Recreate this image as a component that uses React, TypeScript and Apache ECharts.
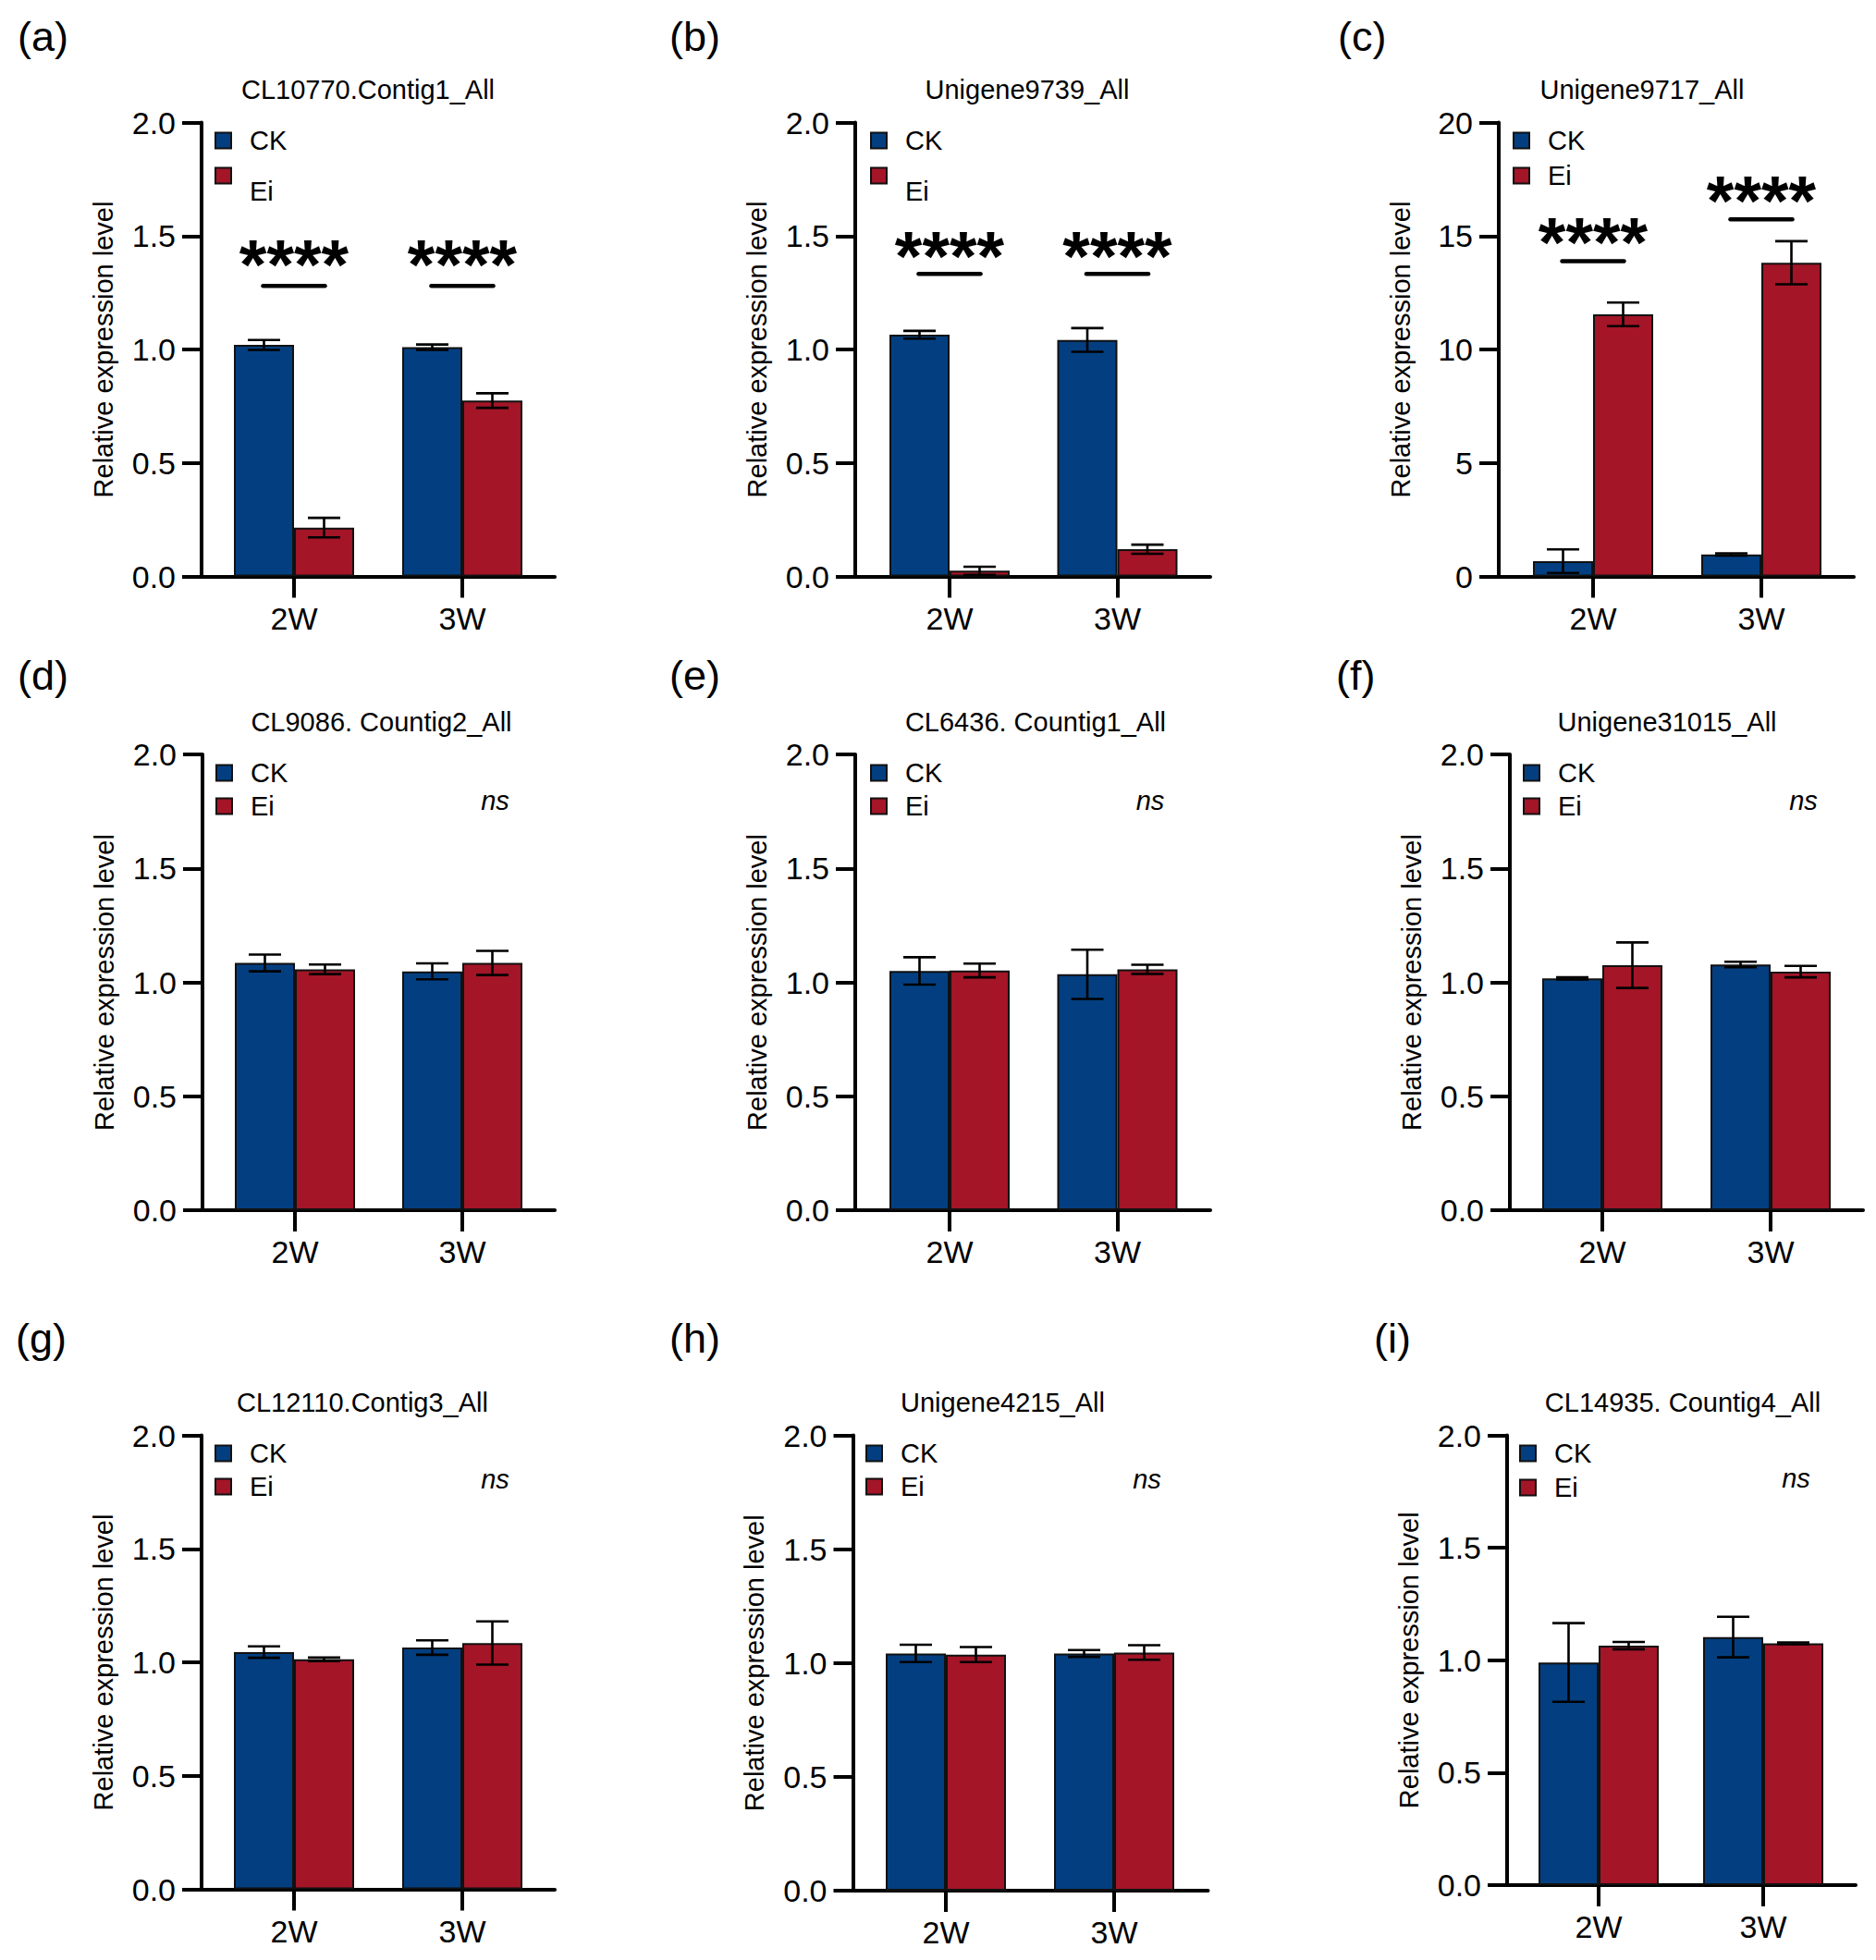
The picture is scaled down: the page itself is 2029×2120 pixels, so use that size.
import React, { useEffect, useRef } from "react";
import * as echarts from "echarts";

// ---------- data ----------
const categories = ["2W", "3W"];
const panelLabels = ["(a)", "(b)", "(c)", "(d)", "(e)", "(f)", "(g)", "(h)", "(i)"];
const titles = [
  "CL10770.Contig1_All",
  "Unigene9739_All",
  "Unigene9717_All",
  "CL9086. Countig2_All",
  "CL6436. Countig1_All",
  "Unigene31015_All",
  "CL12110.Contig3_All",
  "Unigene4215_All",
  "CL14935. Countig4_All",
];
const ckMeans = [
  [1.02, 1.01], [1.065, 1.042], [0.67, 0.97],
  [1.085, 1.048], [1.05, 1.035], [1.017, 1.078],
  [1.045, 1.065], [1.042, 1.042], [0.99, 1.103],
];
const ckErrs = [
  [0.022, 0.012], [0.017, 0.052], [0.52, 0.05],
  [0.037, 0.035], [0.06, 0.108], [0.005, 0.012],
  [0.025, 0.032], [0.038, 0.015], [0.175, 0.09],
];
const eiMeans = [
  [0.215, 0.775], [0.025, 0.12], [11.55, 13.82],
  [1.057, 1.085], [1.052, 1.057], [1.075, 1.047],
  [1.013, 1.085], [1.037, 1.046], [1.065, 1.075],
];
const eiErrs = [
  [0.043, 0.032], [0.018, 0.02], [0.52, 0.95],
  [0.021, 0.053], [0.03, 0.02], [0.1, 0.025],
  [0.008, 0.095], [0.033, 0.032], [0.016, 0.004],
];
const yMaxes = [2, 2, 20, 2, 2, 2, 2, 2, 2];
const yIntervals = [0.5, 0.5, 5, 0.5, 0.5, 0.5, 0.5, 0.5, 0.5];
// significance: per panel, per category [lineY, starY] (null = ns panel)
const sigLevels: (number[][] | null)[] = [
  [[1.28, 1.43], [1.28, 1.43]],
  [[1.333, 1.468], [1.333, 1.468]],
  [[13.89, 15.28], [15.73, 17.1]],
  null, null, null, null, null, null,
];
const sigText = "****";
const nsText = "ns";
const nsLevels = [null, null, null, 1.79, 1.79, 1.79, 1.8, 1.8, 1.8];
const seriesNames = ["CK", "Ei"];
const yAxisName = "Relative expression level";

// ---------- layout / style ----------
const FONT = '"Liberation Sans", Arial, Helvetica, sans-serif';
const BLUE = "#033f80";
const RED = "#a31527";
const COLORS = [BLUE, RED];
const BAR_W = 65;
const CAP = 17.5;
const frameLeft = [218, 925, 1621, 219, 925, 1633, 218, 922.5, 1630];
const frameRight = [600, 1309, 2005, 600, 1309, 2015, 600, 1306.5, 2007];
const tickA = [318, 1027, 1723, 319, 1027, 1733, 318, 1023, 1729];
const tickB = [500, 1208.5, 1905, 500, 1208.5, 1915, 500, 1205, 1907];
const gridTop = [132.5, 132.5, 132.5, 816, 816, 816, 1552.5, 1552.5, 1552.5];
const gridBottom = [623.5, 623.5, 623.5, 1309, 1309, 1309, 2043.5, 2045, 2039];
const titleX = [398, 1111, 1776, 412.5, 1120, 1803, 392, 1084.5, 1820];
const titleY = [96.5, 96.5, 96.5, 781, 781, 781, 1516.5, 1516.5, 1516.5];
const labelX = [19, 724, 1447, 19, 724, 1445, 17, 724, 1486];
const labelY = [39, 39, 39, 730, 730, 730, 1447, 1447, 1447];
const legendX = [233, 942, 1637, 234, 942, 1648, 233, 937, 1644];
const legendCkY = [152, 152, 152, 836, 836, 836, 1572, 1572, 1572];
const legendEiY = [190, 190, 190, 872, 872, 872, 1608, 1608, 1609];
const legendEiShift = [17, 17, 0, 0, 0, 0, 0, 0, 0];
const W = 2029;
const H = 2120;

const centerText = { align: "center", verticalAlign: "middle", textAlign: "center", textVerticalAlign: "middle" };
const leftText = { align: "left", verticalAlign: "middle", textAlign: "left", textVerticalAlign: "middle" };

function buildOption() {
  const grid: any[] = [];
  const xAxis: any[] = [];
  const yAxis: any[] = [];
  const series: any[] = [];
  const graphic: any[] = [];

  for (let i = 0; i < 9; i++) {
    const height = gridBottom[i] - gridTop[i];
    const span = tickB[i] - tickA[i];
    // frame grid (axis lines, y ticks/labels)
    grid.push({
      left: frameLeft[i], top: gridTop[i], width: frameRight[i] - frameLeft[i], height,
      outerBoundsMode: "none", containLabel: false,
    });
    // data grid
    grid.push({
      left: tickA[i] - span / 2, top: gridTop[i], width: span * 2, height,
      outerBoundsMode: "none", containLabel: false,
    });
    const fi = 2 * i;
    const di = 2 * i + 1;
    xAxis.push({
      gridIndex: fi, type: "value", min: 0, max: 1,
      axisLine: { show: true, onZero: false, lineStyle: { color: "#000", width: 4 } },
      axisTick: { show: false }, axisLabel: { show: false }, splitLine: { show: false },
    });
    xAxis.push({
      gridIndex: di, type: "category", data: categories,
      axisLine: { show: false },
      axisTick: { show: true, alignWithLabel: true, length: 23, lineStyle: { color: "#000", width: 4 } },
      axisLabel: { fontSize: 34, color: "#000", margin: 28, fontFamily: FONT },
      splitLine: { show: false },
    });
    const yMax = yMaxes[i];
    yAxis.push({
      gridIndex: fi, type: "value", min: 0, max: yMax, interval: yIntervals[i],
      axisLine: { show: true, onZero: false, lineStyle: { color: "#000", width: 4 } },
      axisTick: { show: true, length: 21, lineStyle: { color: "#000", width: 4 } },
      axisLabel: {
        fontSize: 34, color: "#000", margin: 28, fontFamily: FONT,
        formatter: (v: number) => (yMax >= 10 ? String(Math.round(v)) : v.toFixed(1)),
      },
      splitLine: { show: false },
      name: yAxisName, nameLocation: "middle", nameGap: 92,
      nameTextStyle: { fontSize: 29, color: "#000", fontFamily: FONT },
    });
    yAxis.push({ gridIndex: di, type: "value", min: 0, max: yMax, show: false });

    const means = [ckMeans[i], eiMeans[i]];
    const errs = [ckErrs[i], eiErrs[i]];
    for (let s = 0; s < 2; s++) {
      series.push({
        type: "bar", name: seriesNames[s], xAxisIndex: di, yAxisIndex: di,
        data: means[s], barWidth: BAR_W, barGap: "0%",
        itemStyle: { color: COLORS[s], borderColor: "#111", borderWidth: 2 },
        z: 2,
      });
    }
    // error bars
    const errData: number[][] = [];
    for (let s = 0; s < 2; s++) {
      for (let c = 0; c < categories.length; c++) {
        errData.push([c, means[s][c], errs[s][c], s]);
      }
    }
    series.push({
      type: "custom", xAxisIndex: di, yAxisIndex: di, z: 4, clip: false,
      silent: true,
      encode: { x: 0, y: 1 },
      data: errData,
      renderItem: (params: any, api: any) => {
        const c = api.value(0), m = api.value(1), e = api.value(2), s = api.value(3);
        const dx = (s === 0 ? -1 : 1) * (BAR_W / 2);
        const hi = api.coord([c, m + e]);
        const lo = api.coord([c, Math.max(0, m - e)]);
        const x = hi[0] + dx;
        const style = { stroke: "#000", lineWidth: 2.6, fill: null };
        return {
          type: "group",
          children: [
            { type: "line", shape: { x1: x, y1: hi[1], x2: x, y2: lo[1] }, style },
            { type: "line", shape: { x1: x - CAP, y1: hi[1], x2: x + CAP, y2: hi[1] }, style },
            { type: "line", shape: { x1: x - CAP, y1: lo[1], x2: x + CAP, y2: lo[1] }, style },
          ],
        };
      },
    });
    // significance annotations
    const sig = sigLevels[i];
    if (sig) {
      series.push({
        type: "custom", xAxisIndex: di, yAxisIndex: di, z: 5, clip: false, silent: true,
        encode: { x: 0, y: 1 },
        data: sig.map((v, c) => [c, v[0], v[1]]),
        renderItem: (params: any, api: any) => {
          const c = api.value(0);
          const lp = api.coord([c, api.value(1)]);
          const sp = api.coord([c, api.value(2)]);
          const fs = 76;
          return {
            type: "group",
            children: [
              {
                type: "line",
                shape: { x1: lp[0] - BAR_W / 2 - 1, y1: lp[1], x2: lp[0] + BAR_W / 2 + 1, y2: lp[1] },
                style: { stroke: "#000", lineWidth: 4.5, lineCap: "round" },
              },
              {
                type: "text", x: sp[0], y: sp[1] + fs * 0.17,
                style: {
                  text: sigText, fontSize: fs, fontWeight: "bold", fontFamily: FONT, fill: "#000",
                  ...centerText,
                },
              },
            ],
          };
        },
      });
    }
    const ns = nsLevels[i];
    if (ns != null) {
      series.push({
        type: "custom", xAxisIndex: di, yAxisIndex: di, z: 5, clip: false, silent: true,
        encode: { x: 0, y: 1 },
        data: [[1, ns]],
        renderItem: (params: any, api: any) => {
          const p = api.coord([api.value(0), api.value(1)]);
          return {
            type: "text", x: p[0] + BAR_W / 2 + 3, y: p[1] - 2,
            style: {
              text: nsText, fontSize: 29, fontStyle: "italic", fontFamily: FONT, fill: "#000",
              ...centerText,
            },
          };
        },
      });
    }

    // legend (drawn as graphic keys)
    const keyY = [legendCkY[i], legendEiY[i]];
    const keyShift = [0, legendEiShift[i]];
    for (let s = 0; s < 2; s++) {
      graphic.push({
        type: "rect",
        shape: { x: legendX[i], y: keyY[s] - 8.5, width: 17, height: 17 },
        style: { fill: COLORS[s], stroke: "#111", lineWidth: 2 },
      });
      graphic.push({
        type: "text", x: legendX[i] + 37, y: keyY[s] + keyShift[s],
        style: { text: seriesNames[s], fontSize: 29, fontFamily: FONT, fill: "#000", ...leftText },
      });
    }

    // title and panel label
    graphic.push({
      type: "text", x: titleX[i], y: titleY[i],
      style: { text: titles[i], fontSize: 29, fontFamily: FONT, fill: "#000", ...centerText },
    });
    graphic.push({
      type: "text", x: labelX[i], y: labelY[i],
      style: { text: panelLabels[i], fontSize: 45, fontFamily: FONT, fill: "#000", ...leftText },
    });
  }

  return {
    animation: false,
    backgroundColor: "#ffffff",
    textStyle: { fontFamily: FONT },
    grid, xAxis, yAxis, series, graphic,
  };
}

export default function App() {
  const ref = useRef<HTMLDivElement>(null);
  useEffect(() => {
    if (!ref.current) return;
    const chart = echarts.init(ref.current, undefined, { renderer: "svg" });
    chart.setOption(buildOption() as any);
    return () => chart.dispose();
  }, []);
  return (
    <div
      ref={ref}
      style={{ position: "absolute", left: 0, top: 0, width: W + "px", height: H + "px", background: "#fff" }}
    />
  );
}
